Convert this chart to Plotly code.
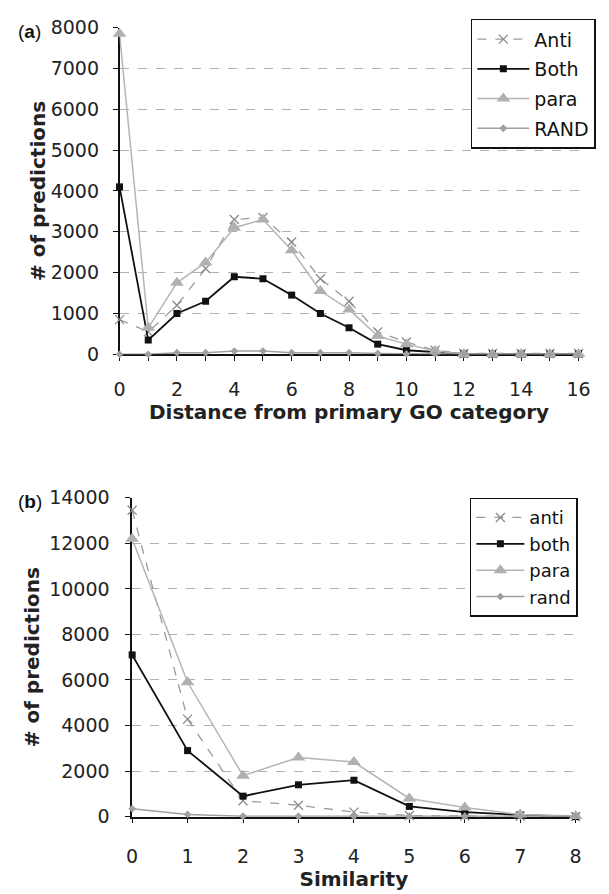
import plotly.graph_objects as go

# Panel (a)
dist = list(range(0, 17))
anti_a = [850, 550, 1200, 2100, 3300, 3350, 2750, 1850, 1300, 550, 300, 100, 20, 20, 20, 20, 20]
both_a = [4100, 350, 1000, 1300, 1900, 1850, 1450, 1000, 650, 250, 100, 50, 10, 10, 10, 10, 10]
para_a = [7850, 650, 1750, 2250, 3100, 3300, 2550, 1550, 1100, 450, 250, 80, 10, 10, 10, 10, 10]
rand_a = [0, 0, 40, 40, 80, 80, 40, 40, 40, 20, 10, 10, 5, 5, 5, 5, 5]
names_a = ["Anti", "Both", "para", "RAND"]

# Panel (b)
sim = list(range(0, 9))
anti_b = [13450, 4280, 700, 500, 200, 50, 30, 20, 10]
both_b = [7100, 2900, 900, 1400, 1600, 450, 200, 80, 0]
para_b = [12200, 5900, 1800, 2600, 2400, 800, 400, 100, 30]
rand_b = [350, 100, 20, 20, 20, 20, 20, 20, 20]
names_b = ["anti", "both", "para", "rand"]

W, H = 609, 894
FONT = "DejaVu Sans, Liberation Sans, sans-serif"
LFONT = "Liberation Sans, Arial, sans-serif"

styles = [
    dict(line=dict(color="#9a9a9a", width=1.3, dash="dash"),
         marker=dict(symbol="x-thin-open", size=9, color="#8a8a8a", line=dict(color="#8a8a8a", width=1.3))),
    dict(line=dict(color="#111111", width=1.8),
         marker=dict(symbol="square", size=7, color="#111111")),
    dict(line=dict(color="#b5b5b5", width=1.5),
         marker=dict(symbol="triangle-up", size=12, color="#b0b0b0")),
    dict(line=dict(color="#a0a0a0", width=1.5),
         marker=dict(symbol="diamond", size=6, color="#a0a0a0")),
]

fig = go.Figure()
for i, (ys, nm, st) in enumerate(zip([anti_a, both_a, para_a, rand_a], names_a, styles)):
    fig.add_trace(go.Scatter(x=dist, y=ys, name=nm, mode="lines+markers", cliponaxis=False,
                             xaxis="x", yaxis="y", legend="legend", legendgroup="a%d" % i, **st))
for i, (ys, nm, st) in enumerate(zip([anti_b, both_b, para_b, rand_b], names_b, styles)):
    fig.add_trace(go.Scatter(x=sim, y=ys, name=nm, mode="lines+markers", cliponaxis=False,
                             xaxis="x2", yaxis="y2", legend="legend2", legendgroup="b%d" % i, **st))

def px_x(p):
    return p / W

def px_y(p):
    return 1 - p / H

axis_common = dict(showline=True, linecolor="#111111", linewidth=1.5, ticks="outside",
                   ticklen=5, tickcolor="#111111", tickfont=dict(family=FONT, size=19, color="#222222"),
                   zeroline=False, layer="below traces")

fig.update_layout(
    width=W, height=H, margin=dict(l=0, r=0, t=0, b=0),
    plot_bgcolor="white", paper_bgcolor="white",
    font=dict(family=FONT, color="#222222"),
    xaxis=dict(domain=[px_x(117), px_x(590)], range=[0, 16], anchor="y",
               tickvals=dist, ticktext=[str(v) if v % 2 == 0 else "" for v in dist],
               showgrid=False, ticklabelstandoff=12,
               title=dict(text="<b>Distance from primary GO category</b>", font=dict(size=20, family=FONT), standoff=3),
               **axis_common),
    yaxis=dict(domain=[px_y(352), px_y(17)], range=[0, 8000], anchor="x", dtick=1000, tickformat="d",
               showgrid=True, gridcolor="#b0b0b0", griddash="dash", gridwidth=1, ticklabelstandoff=10,
               title=dict(text="<b># of predictions</b>", font=dict(size=20, family=FONT), standoff=0),
               **axis_common),
    xaxis2=dict(domain=[px_x(130), px_x(587)], range=[0, 8], anchor="y2", dtick=1,
                showgrid=False, ticklabelstandoff=17,
                title=dict(text="<b>Similarity</b>", font=dict(size=20, family=FONT), standoff=4),
                **axis_common),
    yaxis2=dict(domain=[px_y(826), px_y(499)], range=[0, 14000], anchor="x2", dtick=2000, tickformat="d",
                showgrid=True, gridcolor="#b0b0b0", griddash="dash", gridwidth=1, ticklabelstandoff=12,
                title=dict(text="<b># of predictions</b>", font=dict(size=20, family=FONT), standoff=4),
                **axis_common),
    legend=dict(x=px_x(479), y=px_y(8), xanchor="left", yanchor="top",
                bordercolor="#111111", borderwidth=1.5, bgcolor="white", itemwidth=52,
                font=dict(family=FONT, size=19, color="#111111"), tracegroupgap=2),
    legend2=dict(x=px_x(478), y=px_y(499), xanchor="left", yanchor="top",
                 bordercolor="#111111", borderwidth=1.5, bgcolor="white", itemwidth=48,
                 font=dict(family=FONT, size=18, color="#111111"), tracegroupgap=0),
    showlegend=True,
    annotations=[
        dict(text="(<b>a</b>)", x=px_x(10), y=px_y(21), xref="paper", yref="paper",
             xanchor="left", yanchor="middle", showarrow=False, font=dict(family=LFONT, size=19, color="#111111")),
        dict(text="(<b>b</b>)", x=px_x(10), y=px_y(503), xref="paper", yref="paper",
             xanchor="left", yanchor="middle", showarrow=False, font=dict(family=LFONT, size=19, color="#111111")),
    ],
)

fig.write_html("out.html")
